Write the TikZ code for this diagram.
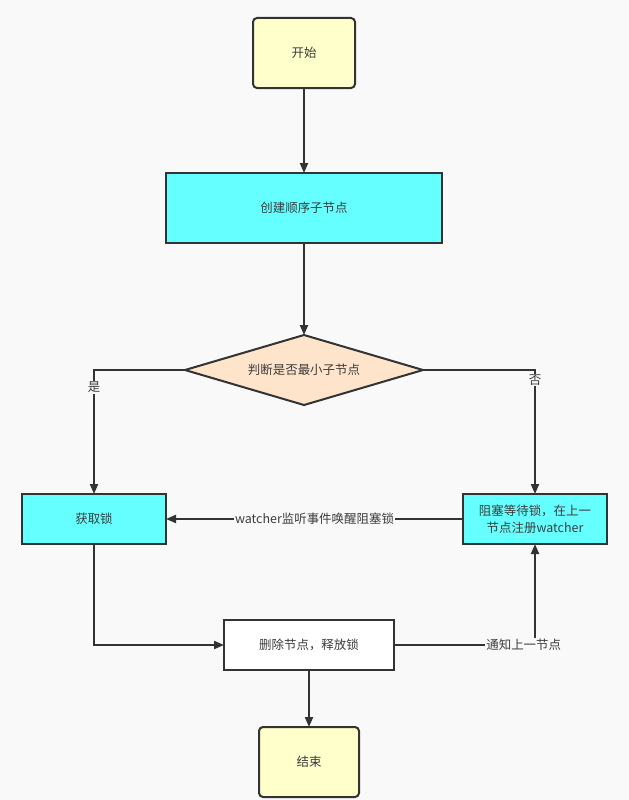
\documentclass[tikz,border=0pt]{standalone}
\usepackage{fontspec}
\setmainfont{Noto Sans CJK SC}
\usetikzlibrary{arrows.meta,shapes.geometric}
\definecolor{bg}{RGB}{249,249,249}
\definecolor{ln}{RGB}{51,51,51}
\definecolor{yel}{RGB}{255,255,204}
\definecolor{cya}{RGB}{102,255,255}
\definecolor{pea}{RGB}{255,228,204}
\definecolor{txt}{RGB}{60,60,60}
\begin{document}
\begin{tikzpicture}[x=1bp,y=-1bp,
  font=\fontsize{12.5}{16}\selectfont, text=txt,
  box/.style={draw=ln, line width=2bp, inner sep=0pt, outer sep=0pt, align=center},
  rbox/.style={box, rounded corners=4bp, fill=yel},
  conn/.style={draw=ln, line width=2bp, -{Triangle[length=10bp,width=8bp]}},
  lbl/.style={fill=bg, inner sep=1pt, text=txt}]
\fill[bg] (0,0) rectangle (629,800);
\useasboundingbox (0,0) rectangle (629,800);
\node[rbox, minimum width=102bp, minimum height=70bp] (start) at (304,53) {开始};
\node[box, fill=cya, minimum width=276bp, minimum height=70bp] (create) at (304,208) {创建顺序子节点};
\node[draw=ln, line width=2bp, fill=pea, diamond, aspect=3.45, minimum width=238bp, minimum height=70bp, inner sep=0pt, outer sep=0pt] (judge) at (304,370) {判断是否最小子节点};
\node[box, fill=cya, minimum width=144bp, minimum height=50bp] (get) at (94,519) {获取锁};
\node[box, fill=cya, minimum width=144bp, minimum height=50bp] (block) at (535,519) {阻塞等待锁，在上一\\[1pt]节点注册watcher};
\node[box, fill=white, minimum width=170bp, minimum height=50bp] (del) at (309,645) {删除节点，释放锁};
\node[rbox, minimum width=100bp, minimum height=70bp] (end) at (309,762) {结束};
\draw[conn] (start) -- (create);
\draw[conn] (create) -- (judge.north);
\draw[conn] (judge.west) -| node[lbl, pos=0.57] {是} (get.north);
\draw[conn] (judge.east) -| node[lbl, pos=0.54] {否} (block.north);
\draw[conn] (block.west) -- node[lbl, pos=0.5] {watcher监听事件唤醒阻塞锁} (get.east);
\draw[conn] (get.south) |- (del.west);
\draw[conn] (del.east) -| node[lbl, pos=0.46] {通知上一节点} (block.south);
\draw[conn] (del) -- (end);
\end{tikzpicture}
\end{document}
